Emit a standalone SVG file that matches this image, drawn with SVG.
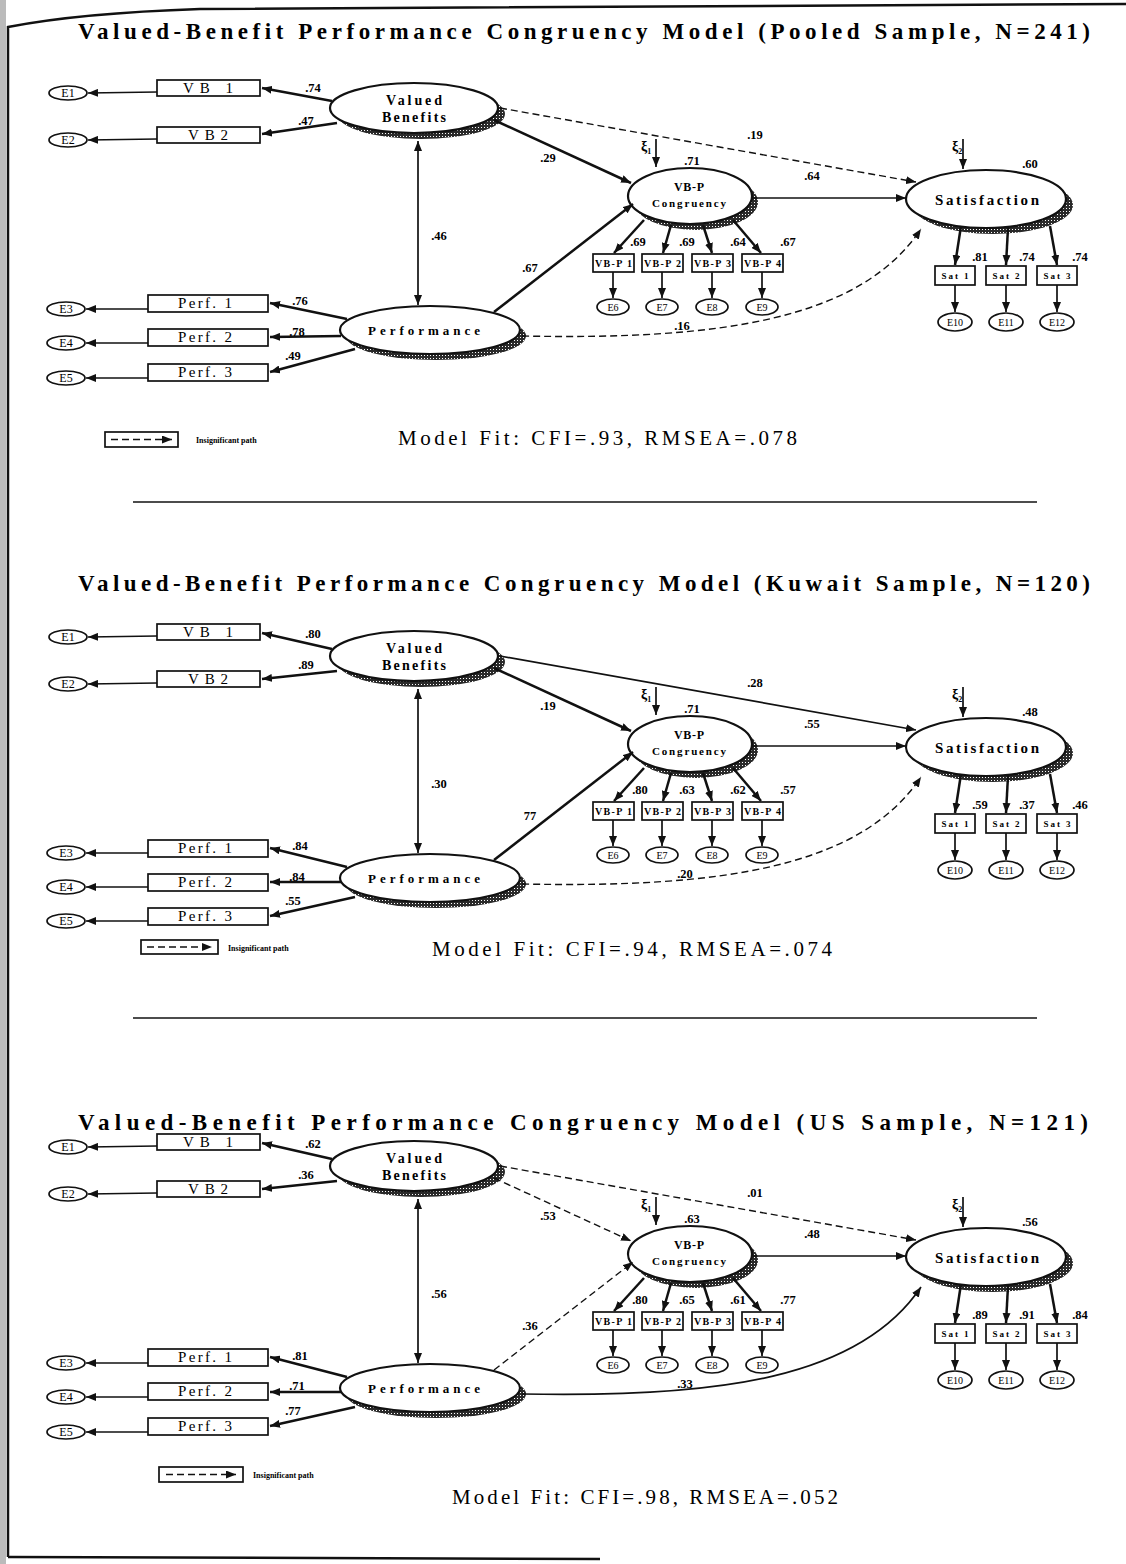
<svg xmlns="http://www.w3.org/2000/svg" width="1126" height="1564" viewBox="0 0 1126 1564">
<style>
.box{fill:#fff;stroke:#111;stroke-width:1.7}
.err{fill:#fff;stroke:#111;stroke-width:1.7}
.lat{fill:#fff;stroke:#111;stroke-width:2.2}
.shd{fill:url(#dots)}
.ln{fill:none;stroke:#111;stroke-width:1.7;marker-end:url(#ah)}
.th{stroke-width:2.5}
.da{stroke-dasharray:7 4;stroke-width:1.4}
.dbl{marker-start:url(#ah)}
.ttl{font-family:"Liberation Serif",serif;font-weight:bold;font-size:23px}
.fit{font-family:"Liberation Serif",serif;font-size:21px}
.lt{font-family:"Liberation Serif",serif;font-weight:bold;font-size:14px;text-anchor:middle}
.ot{font-family:"Liberation Serif",serif;font-size:15px;text-anchor:middle}
.st{font-family:"Liberation Serif",serif;font-weight:bold;font-size:10px;text-anchor:middle}
.sa{font-family:"Liberation Serif",serif;font-weight:bold;font-size:9px;text-anchor:middle}
.et{font-family:"Liberation Serif",serif;font-size:12px;text-anchor:middle}
.es{font-family:"Liberation Serif",serif;font-size:10px;text-anchor:middle}
.cf{font-family:"Liberation Serif",serif;font-weight:bold;font-size:12.5px;text-anchor:middle}
.lg{font-family:"Liberation Serif",serif;font-weight:bold;font-size:8px}
.xi{font-family:"Liberation Serif",serif;font-weight:bold;font-size:14px}
.frame{fill:none;stroke:#111;stroke-width:2.5}
.sep{stroke:#111;stroke-width:1.5}
</style>
<defs>
<pattern id="dots" width="3" height="3" patternUnits="userSpaceOnUse"><rect width="3" height="3" fill="#2a2a2a"/><rect x="1" y="1" width="1" height="1" fill="#fff"/></pattern>
<marker id="ah" viewBox="0 0 10 8" markerWidth="10" markerHeight="8" refX="10" refY="4" orient="auto-start-reverse" markerUnits="userSpaceOnUse"><path d="M0,0 L10,4 L0,8 z" fill="#111"/></marker>
</defs>
<rect width="1126" height="1564" fill="#fff"/>
<rect x="0" y="0" width="6" height="1564" fill="#bbb"/>
<path class="frame" d="M8,1557 L8,27 Q80,13 200,9 L1126,4"/>
<path class="frame" d="M8,1557 L600,1559"/>

<text class="ttl" x="78" y="39" textLength="1012" lengthAdjust="spacing">Valued-Benefit Performance Congruency Model (Pooled Sample, N=241)</text>
<text class="ttl" x="78" y="591" textLength="1012" lengthAdjust="spacing">Valued-Benefit Performance Congruency Model (Kuwait Sample, N=120)</text>
<text class="ttl" x="78" y="1130" textLength="1010" lengthAdjust="spacing">Valued-Benefit Performance Congruency Model (US Sample, N=121)</text>
<line class="sep" x1="133" y1="502" x2="1037" y2="502"/>
<line class="sep" x1="133" y1="1018" x2="1037" y2="1018"/>

<!-- ================= PANEL 1 ================= -->
<g id="panel1">
<g id="p1-E1"><ellipse class="err" cx="68" cy="93" rx="19" ry="7"/><text class="et" x="68" y="97">E1</text></g>
<g id="p1-E2"><ellipse class="err" cx="68" cy="140" rx="19" ry="7"/><text class="et" x="68" y="144">E2</text></g>
<g id="p1-VB1"><rect class="box" x="157" y="80" width="103" height="16"/><text class="ot" x="208" y="93" textLength="50" lengthAdjust="spacing">VB 1</text></g>
<g id="p1-VB2"><rect class="box" x="157" y="127" width="103" height="16"/><text class="ot" x="208" y="140" textLength="40" lengthAdjust="spacing">VB2</text></g>
<g id="p1-VB"><ellipse class="shd" cx="421" cy="114" rx="84" ry="25"/><ellipse class="lat" cx="414" cy="108" rx="84" ry="25"/><text class="lt" x="414" y="105" textLength="56" lengthAdjust="spacing">Valued</text><text class="lt" x="414" y="122" textLength="64" lengthAdjust="spacing">Benefits</text></g>
<g id="p1-E3"><ellipse class="err" cx="66" cy="309" rx="19" ry="7"/><text class="et" x="66" y="313">E3</text></g>
<g id="p1-E4"><ellipse class="err" cx="66" cy="343" rx="19" ry="7"/><text class="et" x="66" y="347">E4</text></g>
<g id="p1-E5"><ellipse class="err" cx="66" cy="378" rx="19" ry="7"/><text class="et" x="66" y="382">E5</text></g>
<g id="p1-Perf1"><rect class="box" x="148" y="295" width="120" height="17"/><text class="ot" x="205" y="308" textLength="54" lengthAdjust="spacing">Perf. 1</text></g>
<g id="p1-Perf2"><rect class="box" x="148" y="329" width="120" height="17"/><text class="ot" x="205" y="342" textLength="54" lengthAdjust="spacing">Perf. 2</text></g>
<g id="p1-Perf3"><rect class="box" x="148" y="364" width="120" height="17"/><text class="ot" x="205" y="377" textLength="54" lengthAdjust="spacing">Perf. 3</text></g>
<g id="p1-Perf"><ellipse class="shd" cx="436" cy="336" rx="90" ry="24"/><ellipse class="lat" cx="430" cy="330" rx="90" ry="24"/><text class="lt" x="424" y="335" style="font-size:13px" textLength="112" lengthAdjust="spacing">Performance</text></g>
<g id="p1-VBP"><ellipse class="shd" cx="696" cy="202" rx="62" ry="28"/><ellipse class="lat" cx="690" cy="196" rx="62" ry="28"/><text class="lt" x="689" y="191" style="font-size:12px" textLength="30" lengthAdjust="spacing">VB-P</text><text class="lt" x="689" y="207" style="font-size:11px" textLength="74" lengthAdjust="spacing">Congruency</text></g>
<g id="p1-Sat"><ellipse class="shd" cx="993" cy="205" rx="80" ry="29"/><ellipse class="lat" cx="986" cy="199" rx="80" ry="29"/><text class="lt" x="987" y="205" style="font-size:15px" textLength="104" lengthAdjust="spacing">Satisfaction</text></g>
<g id="p1-VBP1"><rect class="box" x="593" y="254" width="41" height="18"/><text class="st" x="613.5" y="267" textLength="37" lengthAdjust="spacing">VB-P 1</text></g>
<g id="p1-VBP2"><rect class="box" x="642" y="254" width="41" height="18"/><text class="st" x="662.5" y="267" textLength="37" lengthAdjust="spacing">VB-P 2</text></g>
<g id="p1-VBP3"><rect class="box" x="692" y="254" width="41" height="18"/><text class="st" x="712.5" y="267" textLength="37" lengthAdjust="spacing">VB-P 3</text></g>
<g id="p1-VBP4"><rect class="box" x="742" y="254" width="41" height="18"/><text class="st" x="762.5" y="267" textLength="37" lengthAdjust="spacing">VB-P 4</text></g>
<g id="p1-E6"><ellipse class="err" cx="613" cy="307" rx="16" ry="8"/><text class="es" x="613" y="311">E6</text></g>
<g id="p1-E7"><ellipse class="err" cx="662" cy="307" rx="16" ry="8"/><text class="es" x="662" y="311">E7</text></g>
<g id="p1-E8"><ellipse class="err" cx="712" cy="307" rx="16" ry="8"/><text class="es" x="712" y="311">E8</text></g>
<g id="p1-E9"><ellipse class="err" cx="762" cy="307" rx="16" ry="8"/><text class="es" x="762" y="311">E9</text></g>
<g id="p1-Sat1"><rect class="box" x="935" y="266" width="40" height="19"/><text class="sa" x="955" y="279" textLength="27" lengthAdjust="spacing">Sat 1</text></g>
<g id="p1-Sat2"><rect class="box" x="986" y="266" width="40" height="19"/><text class="sa" x="1006" y="279" textLength="27" lengthAdjust="spacing">Sat 2</text></g>
<g id="p1-Sat3"><rect class="box" x="1037" y="266" width="40" height="19"/><text class="sa" x="1057" y="279" textLength="27" lengthAdjust="spacing">Sat 3</text></g>
<g id="p1-E10"><ellipse class="err" cx="955" cy="322" rx="17" ry="9"/><text class="es" x="955" y="326">E10</text></g>
<g id="p1-E11"><ellipse class="err" cx="1006" cy="322" rx="17" ry="9"/><text class="es" x="1006" y="326">E11</text></g>
<g id="p1-E12"><ellipse class="err" cx="1057" cy="322" rx="17" ry="9"/><text class="es" x="1057" y="326">E12</text></g>
<g id="p1-xi1"><text class="xi" x="641" y="151">ξ<tspan dy="3" style="font-size:8px">1</tspan></text></g>
<g id="p1-xi2"><text class="xi" x="952" y="151">ξ<tspan dy="3" style="font-size:8px">2</tspan></text></g>
<g id="p1-legend"><rect class="box" x="105" y="432" width="73" height="15"/><path class="ln da" d="M111,439.5 L172,439.5"/><text class="lg" x="196" y="443">Insignificant path</text></g>
<text class="fit" x="398" y="445" textLength="399" lengthAdjust="spacing">Model Fit:  CFI=.93, RMSEA=.078</text>
<g id="p1-edges">
<path class="ln" d="M157,92 L88,93"/>
<path class="ln" d="M157,139 L88,140"/>
<path class="ln" d="M148,309 L86,309"/>
<path class="ln" d="M148,343 L86,343"/>
<path class="ln" d="M148,378 L86,378"/>
<path class="ln th" d="M332,101 L262,88"/>
<path class="ln th" d="M337,123 L262,134"/>
<path class="ln th" d="M347,319 L270,303"/>
<path class="ln th" d="M341,336 L270,337"/>
<path class="ln th" d="M355,349 L270,372"/>
<path class="ln dbl" d="M418,305 L418,141"/>
<path class="ln th" d="M494,120 L631,183"/>
<path class="ln th" d="M494,312 L633,204"/>
<path class="ln da" d="M500,108 L916,182"/>
<path class="ln" d="M753,198 L906,198"/>
<path class="ln da" d="M522,336 C720,340 860,320 921,229"/>
<path class="ln" d="M656,139 L656,167"/>
<path class="ln" d="M963,139 L963,169"/>
<path class="ln th" d="M644,220 L614,253"/>
<path class="ln th" d="M671,225 L663,253"/>
<path class="ln th" d="M703,225 L712,253"/>
<path class="ln th" d="M733,220 L761,253"/>
<path class="ln" d="M613,272 L613,298"/>
<path class="ln" d="M662,272 L662,298"/>
<path class="ln" d="M712,272 L712,298"/>
<path class="ln" d="M762,272 L762,298"/>
<path class="ln th" d="M961,226 L955,265"/>
<path class="ln th" d="M1008,228 L1006,265"/>
<path class="ln th" d="M1050,226 L1057,265"/>
<path class="ln" d="M955,285 L955,312"/>
<path class="ln" d="M1006,285 L1006,312"/>
<path class="ln" d="M1057,285 L1057,312"/>
</g>
<g id="p1-labels">
<text class="cf" x="313" y="92">.74</text><text class="cf" x="306" y="125">.47</text>
<text class="cf" x="439" y="240">.46</text>
<text class="cf" x="300" y="305">.76</text><text class="cf" x="297" y="336">.78</text><text class="cf" x="293" y="360">.49</text>
<text class="cf" x="548" y="162">.29</text><text class="cf" x="530" y="272">.67</text>
<text class="cf" x="692" y="165">.71</text><text class="cf" x="812" y="180">.64</text>
<text class="cf" x="755" y="139">.19</text><text class="cf" x="1030" y="168">.60</text>
<text class="cf" x="682" y="330">.16</text>
<text class="cf" x="638" y="246">.69</text><text class="cf" x="687" y="246">.69</text><text class="cf" x="738" y="246">.64</text><text class="cf" x="788" y="246">.67</text>
<text class="cf" x="980" y="261">.81</text><text class="cf" x="1027" y="261">.74</text><text class="cf" x="1080" y="261">.74</text>
</g>
</g>

<!-- ================= PANEL 2 ================= -->
<g id="panel2" transform="translate(0,548)">
<g id="p2-E1"><ellipse class="err" cx="68" cy="89" rx="19" ry="7"/><text class="et" x="68" y="93">E1</text></g>
<g id="p2-E2"><ellipse class="err" cx="68" cy="136" rx="19" ry="7"/><text class="et" x="68" y="140">E2</text></g>
<g id="p2-VB1"><rect class="box" x="157" y="76" width="103" height="16"/><text class="ot" x="208" y="89" textLength="50" lengthAdjust="spacing">VB 1</text></g>
<g id="p2-VB2"><rect class="box" x="157" y="123" width="103" height="16"/><text class="ot" x="208" y="136" textLength="40" lengthAdjust="spacing">VB2</text></g>
<g id="p2-VB"><ellipse class="shd" cx="421" cy="114" rx="84" ry="25"/><ellipse class="lat" cx="414" cy="108" rx="84" ry="25"/><text class="lt" x="414" y="105" textLength="56" lengthAdjust="spacing">Valued</text><text class="lt" x="414" y="122" textLength="64" lengthAdjust="spacing">Benefits</text></g>
<g id="p2-E3"><ellipse class="err" cx="66" cy="305" rx="19" ry="7"/><text class="et" x="66" y="309">E3</text></g>
<g id="p2-E4"><ellipse class="err" cx="66" cy="339" rx="19" ry="7"/><text class="et" x="66" y="343">E4</text></g>
<g id="p2-E5"><ellipse class="err" cx="66" cy="373" rx="19" ry="7"/><text class="et" x="66" y="377">E5</text></g>
<g id="p2-Perf1"><rect class="box" x="148" y="292" width="120" height="17"/><text class="ot" x="205" y="305" textLength="54" lengthAdjust="spacing">Perf. 1</text></g>
<g id="p2-Perf2"><rect class="box" x="148" y="326" width="120" height="17"/><text class="ot" x="205" y="339" textLength="54" lengthAdjust="spacing">Perf. 2</text></g>
<g id="p2-Perf3"><rect class="box" x="148" y="360" width="120" height="17"/><text class="ot" x="205" y="373" textLength="54" lengthAdjust="spacing">Perf. 3</text></g>
<g id="p2-Perf"><ellipse class="shd" cx="436" cy="336" rx="90" ry="24"/><ellipse class="lat" cx="430" cy="330" rx="90" ry="24"/><text class="lt" x="424" y="335" style="font-size:13px" textLength="112" lengthAdjust="spacing">Performance</text></g>
<g id="p2-VBP"><ellipse class="shd" cx="696" cy="202" rx="62" ry="28"/><ellipse class="lat" cx="690" cy="196" rx="62" ry="28"/><text class="lt" x="689" y="191" style="font-size:12px" textLength="30" lengthAdjust="spacing">VB-P</text><text class="lt" x="689" y="207" style="font-size:11px" textLength="74" lengthAdjust="spacing">Congruency</text></g>
<g id="p2-Sat"><ellipse class="shd" cx="993" cy="205" rx="80" ry="29"/><ellipse class="lat" cx="986" cy="199" rx="80" ry="29"/><text class="lt" x="987" y="205" style="font-size:15px" textLength="104" lengthAdjust="spacing">Satisfaction</text></g>
<g id="p2-VBP1"><rect class="box" x="593" y="254" width="41" height="18"/><text class="st" x="613.5" y="267" textLength="37" lengthAdjust="spacing">VB-P 1</text></g>
<g id="p2-VBP2"><rect class="box" x="642" y="254" width="41" height="18"/><text class="st" x="662.5" y="267" textLength="37" lengthAdjust="spacing">VB-P 2</text></g>
<g id="p2-VBP3"><rect class="box" x="692" y="254" width="41" height="18"/><text class="st" x="712.5" y="267" textLength="37" lengthAdjust="spacing">VB-P 3</text></g>
<g id="p2-VBP4"><rect class="box" x="742" y="254" width="41" height="18"/><text class="st" x="762.5" y="267" textLength="37" lengthAdjust="spacing">VB-P 4</text></g>
<g id="p2-E6"><ellipse class="err" cx="613" cy="307" rx="16" ry="8"/><text class="es" x="613" y="311">E6</text></g>
<g id="p2-E7"><ellipse class="err" cx="662" cy="307" rx="16" ry="8"/><text class="es" x="662" y="311">E7</text></g>
<g id="p2-E8"><ellipse class="err" cx="712" cy="307" rx="16" ry="8"/><text class="es" x="712" y="311">E8</text></g>
<g id="p2-E9"><ellipse class="err" cx="762" cy="307" rx="16" ry="8"/><text class="es" x="762" y="311">E9</text></g>
<g id="p2-Sat1"><rect class="box" x="935" y="266" width="40" height="19"/><text class="sa" x="955" y="279" textLength="27" lengthAdjust="spacing">Sat 1</text></g>
<g id="p2-Sat2"><rect class="box" x="986" y="266" width="40" height="19"/><text class="sa" x="1006" y="279" textLength="27" lengthAdjust="spacing">Sat 2</text></g>
<g id="p2-Sat3"><rect class="box" x="1037" y="266" width="40" height="19"/><text class="sa" x="1057" y="279" textLength="27" lengthAdjust="spacing">Sat 3</text></g>
<g id="p2-E10"><ellipse class="err" cx="955" cy="322" rx="17" ry="9"/><text class="es" x="955" y="326">E10</text></g>
<g id="p2-E11"><ellipse class="err" cx="1006" cy="322" rx="17" ry="9"/><text class="es" x="1006" y="326">E11</text></g>
<g id="p2-E12"><ellipse class="err" cx="1057" cy="322" rx="17" ry="9"/><text class="es" x="1057" y="326">E12</text></g>
<g id="p2-xi1"><text class="xi" x="641" y="151">ξ<tspan dy="3" style="font-size:8px">1</tspan></text></g>
<g id="p2-xi2"><text class="xi" x="952" y="151">ξ<tspan dy="3" style="font-size:8px">2</tspan></text></g>
<g id="p2-legend"><rect class="box" x="141" y="392" width="77" height="14"/><path class="ln da" d="M147,399 L212,399"/><text class="lg" x="228" y="403">Insignificant path</text></g>
<text class="fit" x="432" y="408" textLength="400" lengthAdjust="spacing">Model Fit:  CFI=.94, RMSEA=.074</text>
<g id="p2-edges">
<path class="ln" d="M157,88 L88,89"/>
<path class="ln" d="M157,135 L88,136"/>
<path class="ln" d="M148,305 L86,305"/>
<path class="ln" d="M148,339 L86,339"/>
<path class="ln" d="M148,373 L86,373"/>
<path class="ln th" d="M332,101 L262,85"/>
<path class="ln th" d="M337,123 L262,131"/>
<path class="ln th" d="M347,319 L270,300"/>
<path class="ln th" d="M341,334 L270,334"/>
<path class="ln th" d="M355,349 L270,368"/>
<path class="ln dbl" d="M418,305 L418,141"/>
<path class="ln th" d="M494,120 L631,183"/>
<path class="ln th" d="M494,312 L633,204"/>
<path class="ln" d="M500,108 L916,182"/>
<path class="ln" d="M753,198 L906,198"/>
<path class="ln da" d="M522,336 C720,340 860,320 921,229"/>
<path class="ln" d="M656,139 L656,167"/>
<path class="ln" d="M963,139 L963,169"/>
<path class="ln th" d="M644,220 L614,253"/>
<path class="ln th" d="M671,225 L663,253"/>
<path class="ln th" d="M703,225 L712,253"/>
<path class="ln th" d="M733,220 L761,253"/>
<path class="ln" d="M613,272 L613,298"/>
<path class="ln" d="M662,272 L662,298"/>
<path class="ln" d="M712,272 L712,298"/>
<path class="ln" d="M762,272 L762,298"/>
<path class="ln th" d="M961,226 L955,265"/>
<path class="ln th" d="M1008,228 L1006,265"/>
<path class="ln th" d="M1050,226 L1057,265"/>
<path class="ln" d="M955,285 L955,312"/>
<path class="ln" d="M1006,285 L1006,312"/>
<path class="ln" d="M1057,285 L1057,312"/>
</g>
<g id="p2-labels">
<text class="cf" x="313" y="90">.80</text><text class="cf" x="306" y="121">.89</text>
<text class="cf" x="439" y="240">.30</text>
<text class="cf" x="300" y="302">.84</text><text class="cf" x="297" y="333">.84</text><text class="cf" x="293" y="357">.55</text>
<text class="cf" x="548" y="162">.19</text><text class="cf" x="530" y="272">77</text>
<text class="cf" x="692" y="165">.71</text><text class="cf" x="812" y="180">.55</text>
<text class="cf" x="755" y="139">.28</text><text class="cf" x="1030" y="168">.48</text>
<text class="cf" x="685" y="330">.20</text>
<text class="cf" x="640" y="246">.80</text><text class="cf" x="687" y="246">.63</text><text class="cf" x="738" y="246">.62</text><text class="cf" x="788" y="246">.57</text>
<text class="cf" x="980" y="261">.59</text><text class="cf" x="1027" y="261">.37</text><text class="cf" x="1080" y="261">.46</text>
</g>
</g>

<!-- ================= PANEL 3 ================= -->
<g id="panel3" transform="translate(0,1058)">
<g id="p3-E1"><ellipse class="err" cx="68" cy="89" rx="19" ry="7"/><text class="et" x="68" y="93">E1</text></g>
<g id="p3-E2"><ellipse class="err" cx="68" cy="136" rx="19" ry="7"/><text class="et" x="68" y="140">E2</text></g>
<g id="p3-VB1"><rect class="box" x="157" y="76" width="103" height="16"/><text class="ot" x="208" y="89" textLength="50" lengthAdjust="spacing">VB 1</text></g>
<g id="p3-VB2"><rect class="box" x="157" y="123" width="103" height="16"/><text class="ot" x="208" y="136" textLength="40" lengthAdjust="spacing">VB2</text></g>
<g id="p3-VB"><ellipse class="shd" cx="421" cy="114" rx="84" ry="25"/><ellipse class="lat" cx="414" cy="108" rx="84" ry="25"/><text class="lt" x="414" y="105" textLength="56" lengthAdjust="spacing">Valued</text><text class="lt" x="414" y="122" textLength="64" lengthAdjust="spacing">Benefits</text></g>
<g id="p3-E3"><ellipse class="err" cx="66" cy="305" rx="19" ry="7"/><text class="et" x="66" y="309">E3</text></g>
<g id="p3-E4"><ellipse class="err" cx="66" cy="339" rx="19" ry="7"/><text class="et" x="66" y="343">E4</text></g>
<g id="p3-E5"><ellipse class="err" cx="66" cy="374" rx="19" ry="7"/><text class="et" x="66" y="378">E5</text></g>
<g id="p3-Perf1"><rect class="box" x="148" y="291" width="120" height="17"/><text class="ot" x="205" y="304" textLength="54" lengthAdjust="spacing">Perf. 1</text></g>
<g id="p3-Perf2"><rect class="box" x="148" y="325" width="120" height="17"/><text class="ot" x="205" y="338" textLength="54" lengthAdjust="spacing">Perf. 2</text></g>
<g id="p3-Perf3"><rect class="box" x="148" y="360" width="120" height="17"/><text class="ot" x="205" y="373" textLength="54" lengthAdjust="spacing">Perf. 3</text></g>
<g id="p3-Perf"><ellipse class="shd" cx="436" cy="336" rx="90" ry="24"/><ellipse class="lat" cx="430" cy="330" rx="90" ry="24"/><text class="lt" x="424" y="335" style="font-size:13px" textLength="112" lengthAdjust="spacing">Performance</text></g>
<g id="p3-VBP"><ellipse class="shd" cx="696" cy="202" rx="62" ry="28"/><ellipse class="lat" cx="690" cy="196" rx="62" ry="28"/><text class="lt" x="689" y="191" style="font-size:12px" textLength="30" lengthAdjust="spacing">VB-P</text><text class="lt" x="689" y="207" style="font-size:11px" textLength="74" lengthAdjust="spacing">Congruency</text></g>
<g id="p3-Sat"><ellipse class="shd" cx="993" cy="205" rx="80" ry="29"/><ellipse class="lat" cx="986" cy="199" rx="80" ry="29"/><text class="lt" x="987" y="205" style="font-size:15px" textLength="104" lengthAdjust="spacing">Satisfaction</text></g>
<g id="p3-VBP1"><rect class="box" x="593" y="254" width="41" height="18"/><text class="st" x="613.5" y="267" textLength="37" lengthAdjust="spacing">VB-P 1</text></g>
<g id="p3-VBP2"><rect class="box" x="642" y="254" width="41" height="18"/><text class="st" x="662.5" y="267" textLength="37" lengthAdjust="spacing">VB-P 2</text></g>
<g id="p3-VBP3"><rect class="box" x="692" y="254" width="41" height="18"/><text class="st" x="712.5" y="267" textLength="37" lengthAdjust="spacing">VB-P 3</text></g>
<g id="p3-VBP4"><rect class="box" x="742" y="254" width="41" height="18"/><text class="st" x="762.5" y="267" textLength="37" lengthAdjust="spacing">VB-P 4</text></g>
<g id="p3-E6"><ellipse class="err" cx="613" cy="307" rx="16" ry="8"/><text class="es" x="613" y="311">E6</text></g>
<g id="p3-E7"><ellipse class="err" cx="662" cy="307" rx="16" ry="8"/><text class="es" x="662" y="311">E7</text></g>
<g id="p3-E8"><ellipse class="err" cx="712" cy="307" rx="16" ry="8"/><text class="es" x="712" y="311">E8</text></g>
<g id="p3-E9"><ellipse class="err" cx="762" cy="307" rx="16" ry="8"/><text class="es" x="762" y="311">E9</text></g>
<g id="p3-Sat1"><rect class="box" x="935" y="266" width="40" height="19"/><text class="sa" x="955" y="279" textLength="27" lengthAdjust="spacing">Sat 1</text></g>
<g id="p3-Sat2"><rect class="box" x="986" y="266" width="40" height="19"/><text class="sa" x="1006" y="279" textLength="27" lengthAdjust="spacing">Sat 2</text></g>
<g id="p3-Sat3"><rect class="box" x="1037" y="266" width="40" height="19"/><text class="sa" x="1057" y="279" textLength="27" lengthAdjust="spacing">Sat 3</text></g>
<g id="p3-E10"><ellipse class="err" cx="955" cy="322" rx="17" ry="9"/><text class="es" x="955" y="326">E10</text></g>
<g id="p3-E11"><ellipse class="err" cx="1006" cy="322" rx="17" ry="9"/><text class="es" x="1006" y="326">E11</text></g>
<g id="p3-E12"><ellipse class="err" cx="1057" cy="322" rx="17" ry="9"/><text class="es" x="1057" y="326">E12</text></g>
<g id="p3-xi1"><text class="xi" x="641" y="151">ξ<tspan dy="3" style="font-size:8px">1</tspan></text></g>
<g id="p3-xi2"><text class="xi" x="952" y="151">ξ<tspan dy="3" style="font-size:8px">2</tspan></text></g>
<g id="p3-legend"><rect class="box" x="159" y="409" width="84" height="15"/><path class="ln da" d="M166,416.5 L236,416.5"/><text class="lg" x="253" y="420">Insignificant path</text></g>
<text class="fit" x="452" y="446" textLength="386" lengthAdjust="spacing">Model Fit:  CFI=.98, RMSEA=.052</text>
<g id="p3-edges">
<path class="ln" d="M157,88 L88,89"/>
<path class="ln" d="M157,135 L88,136"/>
<path class="ln" d="M148,305 L86,305"/>
<path class="ln" d="M148,339 L86,339"/>
<path class="ln" d="M148,374 L86,374"/>
<path class="ln th" d="M332,101 L262,85"/>
<path class="ln th" d="M337,123 L262,131"/>
<path class="ln th" d="M347,319 L270,299"/>
<path class="ln th" d="M341,334 L270,334"/>
<path class="ln th" d="M355,349 L270,368"/>
<path class="ln dbl" d="M418,305 L418,141"/>
<path class="ln da" d="M494,120 L631,183"/>
<path class="ln da" d="M494,312 L633,204"/>
<path class="ln da" d="M500,108 L916,182"/>
<path class="ln" d="M753,198 L906,198"/>
<path class="ln" d="M522,336 C720,340 860,320 921,229"/>
<path class="ln" d="M656,139 L656,167"/>
<path class="ln" d="M963,139 L963,169"/>
<path class="ln th" d="M644,220 L614,253"/>
<path class="ln th" d="M671,225 L663,253"/>
<path class="ln th" d="M703,225 L712,253"/>
<path class="ln th" d="M733,220 L761,253"/>
<path class="ln" d="M613,272 L613,298"/>
<path class="ln" d="M662,272 L662,298"/>
<path class="ln" d="M712,272 L712,298"/>
<path class="ln" d="M762,272 L762,298"/>
<path class="ln th" d="M961,226 L955,265"/>
<path class="ln th" d="M1008,228 L1006,265"/>
<path class="ln th" d="M1050,226 L1057,265"/>
<path class="ln" d="M955,285 L955,312"/>
<path class="ln" d="M1006,285 L1006,312"/>
<path class="ln" d="M1057,285 L1057,312"/>
</g>
<g id="p3-labels">
<text class="cf" x="313" y="90">.62</text><text class="cf" x="306" y="121">.36</text>
<text class="cf" x="439" y="240">.56</text>
<text class="cf" x="300" y="302">.81</text><text class="cf" x="297" y="332">.71</text><text class="cf" x="293" y="357">.77</text>
<text class="cf" x="548" y="162">.53</text><text class="cf" x="530" y="272">.36</text>
<text class="cf" x="692" y="165">.63</text><text class="cf" x="812" y="180">.48</text>
<text class="cf" x="755" y="139">.01</text><text class="cf" x="1030" y="168">.56</text>
<text class="cf" x="685" y="330">.33</text>
<text class="cf" x="640" y="246">.80</text><text class="cf" x="687" y="246">.65</text><text class="cf" x="738" y="246">.61</text><text class="cf" x="788" y="246">.77</text>
<text class="cf" x="980" y="261">.89</text><text class="cf" x="1027" y="261">.91</text><text class="cf" x="1080" y="261">.84</text>
</g>
</g>
</svg>
